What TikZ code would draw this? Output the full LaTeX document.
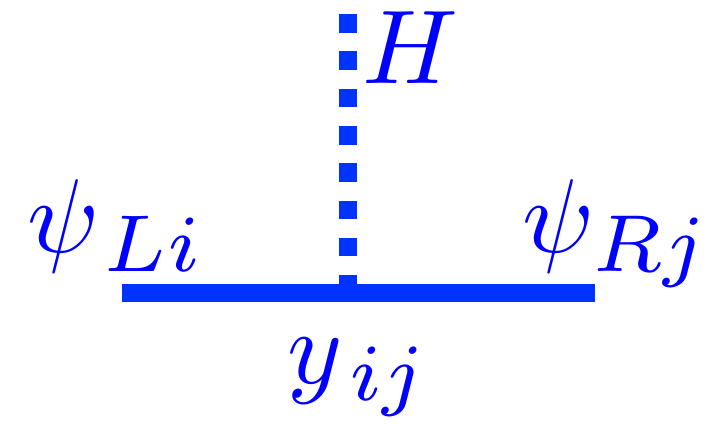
\documentclass[tikz,border=0pt]{standalone}
\definecolor{linecol}{RGB}{0,51,255}
\newcommand{\bigmath}[1]{\scalebox{10.5}{$#1$}}
\newcommand{\bigsub}[2]{\kern#1\scalebox{1.1}{$\scriptstyle #2$}}
\tikzset{
  fermion/.style={draw=linecol, line width=18pt, line cap=butt},
  scalar/.style={draw=linecol, line width=18.5pt, line cap=butt, dash pattern=on 18.6pt off 18.7pt},
  lbl/.style={inner sep=0pt, text=blue}
}
\begin{document}
\begin{tikzpicture}[x=1pt,y=-1pt]
\useasboundingbox (0,0) rectangle (725,426);
\coordinate (l) at (121.5,293);
\coordinate (r) at (594.5,293);
\coordinate (v) at (348,293);
\coordinate (t) at (348,14);
\draw[scalar] (t) -- (v);
\draw[fermion] (l) -- (r);
\node[lbl, anchor=base west] (psiL) at (27,252) {\bigmath{\psi_{\bigsub{0.8pt}{Li}}}};
\node[lbl, anchor=base west] (psiR) at (522,252) {\bigmath{\psi_{\bigsub{0.2pt}{Rj}}}};
\node[lbl, anchor=base west] (H) at (362,83) {\bigmath{H}};
\node[lbl, anchor=base west] (y) at (287,383) {\bigmath{y_{\bigsub{1.0pt}{ij}}}};
\end{tikzpicture}
\end{document}
